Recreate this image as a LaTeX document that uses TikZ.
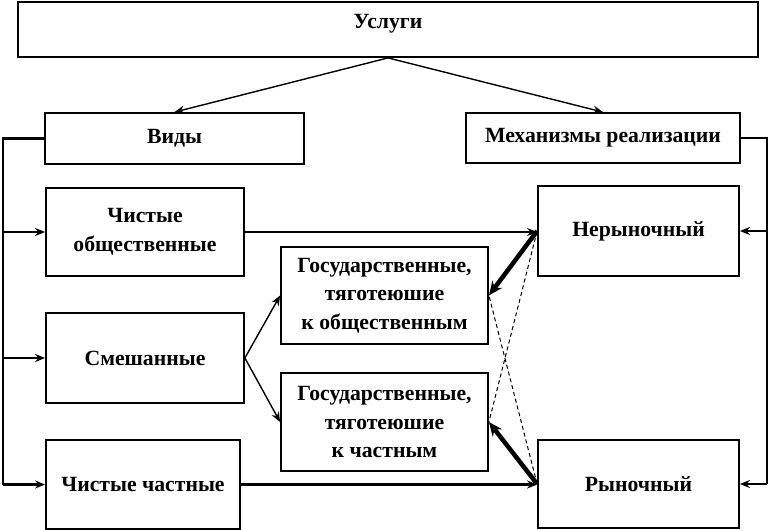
\documentclass[tikz,border=0pt]{standalone}
\usepackage{fontspec}
\setmainfont{Liberation Serif}
\usetikzlibrary{arrows.meta,positioning}

\begin{document}
\begin{tikzpicture}[x=1pt,y=-1pt,font=\bfseries\fontsize{21.7}{28.5}\selectfont]
      \tikzstyle{box}=[draw,line width=1.8pt,inner sep=2pt,align=center]
      \tikzstyle{thin}=[line width=1.4pt,-{Stealth[length=10pt,width=8pt]}]
      \tikzstyle{bus}=[line width=2.4pt]
      \tikzstyle{busarr}=[line width=2.4pt,-{Stealth[length=10pt,width=8pt]}]
      \tikzstyle{heavy}=[line width=4.5pt,-{Stealth[length=14pt,width=12pt]}]
      \tikzstyle{faint}=[line width=1pt,dash pattern=on 4pt off 3pt]
      \useasboundingbox (0,0) rectangle (771,530);
      % top level
      \node[box,minimum width=740pt,text height=24.5pt,text depth=26.5pt] (usl) at (388,29.5) {Услуги};
      \node[box,minimum width=259pt,minimum height=51pt] (vid) at (174.5,138.5) {Виды};
      \node[box,minimum width=274pt,minimum height=50pt] (mech) at (603,138) {Механизмы реализации};
      % kinds of services
      \node[box,minimum width=198pt,minimum height=88pt] (pub) at (145,232) {Чистые\\общественные};
      \node[box,minimum width=198pt,minimum height=90pt] (mix) at (145,358) {Смешанные};
      \node[box,minimum width=194pt,minimum height=89pt] (prv) at (143,484.5) {Чистые частные};
      \node[box,minimum width=207pt,minimum height=97pt] (gos1) at (384.5,295.5) {Государственные,\\тяготеюшие\\к общественным};
      \node[box,minimum width=207pt,minimum height=98pt] (gos2) at (384.5,422) {Государственные,\\тяготеюшие\\к частным};
      % mechanisms
      \node[box,minimum width=201pt,minimum height=90pt] (nonm) at (638.5,231) {Нерыночный};
      \node[box,minimum width=201pt,minimum height=88pt] (mkt) at (638.5,484) {Рыночный};
      \coordinate (lbus) at (3,0);
      \coordinate (rbus) at (767,0);
      % split of the top box
      \draw[thin] (usl.south) -- (vid.north);
      \draw[thin] (usl.south) -- (mech.north);
      % left and right buses
      \draw[bus] (vid.west) -| (prv.west -| lbus);
      \draw[busarr] (pub.west -| lbus) -- (pub.west);
      \draw[busarr] (mix.west -| lbus) -- (mix.west);
      \draw[busarr] (prv.west -| lbus) -- (prv.west);
      \draw[bus] (mech.east) -| (mkt.east -| rbus);
      \draw[busarr] (nonm.east -| rbus) -- (nonm.east);
      \draw[busarr] (mkt.east -| rbus) -- (mkt.east);
      % links between kinds and mechanisms
      \draw[busarr] (pub.east) -- (pub.east -| nonm.west);
      \draw[busarr] (prv.east) -- (prv.east -| mkt.west);
      \draw[thin] (mix.east) -- (gos1.west);
      \draw[thin] (mix.east) -- (gos2.west);
      \draw[heavy] (nonm.west) -- (gos1.east);
      \draw[heavy] (mkt.west) -- (gos2.east);
      \draw[faint] (nonm.west) -- (gos2.east);
      \draw[faint] (mkt.west) -- (gos1.east);
    \end{tikzpicture}
\end{document}
